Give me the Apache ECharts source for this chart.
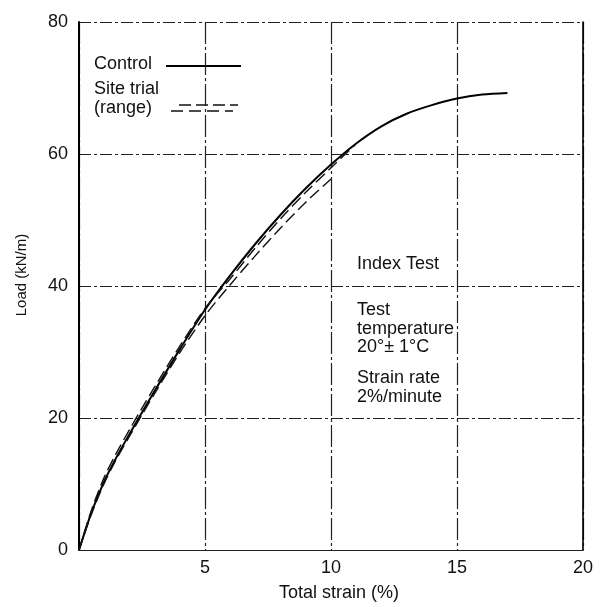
<!DOCTYPE html>
<html>
<head>
<meta charset="utf-8">
<script src="https://cdn.jsdelivr.net/npm/echarts@6/dist/echarts.min.js"></script>
<style>
  html, body { margin: 0; padding: 0; background: #fff; }
  #chart { width: 600px; height: 607px; }
</style>
</head>
<body>
<div id="chart"></div>
<script>
// load (kN/m) vs total strain (%)
const controlCurve = [
  [0, 0], [0.5, 5.75], [1, 10.4], [1.5, 14.15], [2, 17.55], [2.5, 20.85],
  [3, 24.1], [4, 30.4], [5, 36.4], [6, 41.6], [7, 46.4], [8, 50.8],
  [9, 54.8], [10, 58.4], [11, 61.6], [12, 64.2], [13, 66.1], [14, 67.4],
  [15, 68.4], [16, 69.0], [17, 69.25]
];
const siteUpper = [
  [0, 0], [0.5, 6.1], [1, 11.0], [1.5, 14.8], [2, 18.2], [2.5, 21.5],
  [3, 24.7], [4, 30.9], [5, 36.6], [6, 41.1], [7, 45.8], [8, 50.2],
  [9, 54.2], [10, 57.9], [10.96, 61.4]
];
const siteLower = [
  [0, 0], [0.5, 5.5], [1, 10.1], [1.5, 13.85], [2, 17.2], [2.5, 20.5],
  [3, 23.7], [4, 29.9], [5, 35.5], [6, 40.2], [7, 44.6], [8, 48.8],
  [9, 52.7], [10, 56.2]
];
const xTicks = [0, 5, 10, 15, 20];
const yTicks = [0, 20, 40, 60, 80];
const noteLines = ['Index Test', 'Test', 'temperature', '20°± 1°C', 'Strain rate', '2%/minute'];

const font = '"Liberation Sans", Arial, Helvetica, sans-serif';
const gridDash = [12, 3, 3, 3];

const chart = echarts.init(document.getElementById('chart'));

const option = {
  backgroundColor: '#fff',
  animation: false,
  grid: { left: 79, right: 17, top: 22, bottom: 49 },
  xAxis: {
    type: 'value',
    min: xTicks[0],
    max: xTicks[xTicks.length - 1],
    interval: 5,
    name: 'Total strain (%)',
    nameLocation: 'middle',
    nameGap: 34,
    nameTextStyle: { fontFamily: font, fontSize: 18, color: '#111', padding: [0, 0, 0, 16] },
    axisLine: { show: true, lineStyle: { color: '#222', width: 1.2 } },
    axisTick: { show: false },
    axisLabel: {
      margin: 9,
      fontFamily: font, fontSize: 18, color: '#111',
      formatter: v => (v === 0 ? '' : v)
    },
    splitLine: { show: true, lineStyle: { color: '#222', width: 1.2, type: [22, 3, 3, 3] } }
  },
  yAxis: [
    {
      type: 'value',
      min: yTicks[0],
      max: yTicks[yTicks.length - 1],
      interval: 20,
      name: 'Load (kN/m)',
      nameLocation: 'middle',
      nameGap: 50,
      nameTextStyle: { fontFamily: font, fontSize: 15, color: '#111', padding: [0, 0, 0, 22] },
      axisLine: { show: true, lineStyle: { color: '#000', width: 2 } },
      axisTick: { show: false },
      axisLabel: { margin: 11, fontFamily: font, fontSize: 18, color: '#111' },
      splitLine: { show: true, lineStyle: { color: '#222', width: 1.2, type: gridDash } }
    },
    {
      type: 'value',
      position: 'right',
      min: 0,
      max: 80,
      interval: 20,
      axisLine: { show: true, lineStyle: { color: '#000', width: 1.6 } },
      axisTick: { show: false },
      axisLabel: { show: false },
      splitLine: { show: false }
    }
  ],
  series: [
    {
      name: 'Control',
      type: 'line',
      data: controlCurve,
      smooth: 0.3,
      showSymbol: false,
      lineStyle: { color: '#000', width: 2 }
    },
    {
      name: 'Site trial upper',
      type: 'line',
      data: siteUpper,
      smooth: 0.3,
      showSymbol: false,
      lineStyle: { color: '#111', width: 1.4, type: [12, 5] }
    },
    {
      name: 'Site trial lower',
      type: 'line',
      data: siteLower,
      smooth: 0.3,
      showSymbol: false,
      lineStyle: { color: '#111', width: 1.4, type: [12, 5] }
    }
  ],
  graphic: [
    // legend
    { type: 'text', left: 94, top: 55, style: { text: 'Control', font: '18px ' + font, fill: '#111' } },
    { type: 'line', shape: { x1: 166, y1: 66, x2: 241, y2: 66 }, style: { stroke: '#000', lineWidth: 2 } },
    { type: 'text', left: 94, top: 80, style: { text: 'Site trial', font: '18px ' + font, fill: '#111' } },
    { type: 'text', left: 94, top: 99, style: { text: '(range)', font: '18px ' + font, fill: '#111' } },
    { type: 'line', shape: { x1: 179, y1: 105, x2: 238, y2: 105 }, style: { stroke: '#111', lineWidth: 1.4, lineDash: [12, 5] } },
    { type: 'line', shape: { x1: 171, y1: 111, x2: 233, y2: 111 }, style: { stroke: '#111', lineWidth: 1.4, lineDash: [12, 6] } },
    // notes
    { type: 'text', left: 357, top: 255, style: { text: noteLines[0], font: '18px ' + font, fill: '#111' } },
    { type: 'text', left: 357, top: 301, style: { text: noteLines.slice(1, 4).join('\n'), font: '18px ' + font, fill: '#111', lineHeight: 18.5 } },
    { type: 'text', left: 357, top: 368, style: { text: noteLines.slice(4).join('\n'), font: '18px ' + font, fill: '#111', lineHeight: 19.5 } }
  ]
};

chart.setOption(option);
</script>
</body>
</html>
